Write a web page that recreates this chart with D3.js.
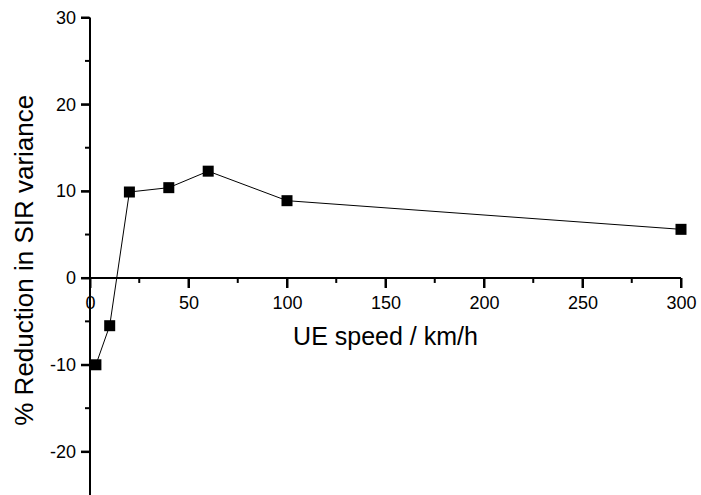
<!DOCTYPE html>
<html>
<head>
<meta charset="utf-8">
<script src="https://cdn.jsdelivr.net/npm/d3@7"></script>
<style>
  body { margin: 0; background: #fff; }
  svg { display: block; font-family: 'Liberation Sans', Arial, sans-serif; }
  .axis text { fill: #000; font-size: 18px; }
</style>
</head>
<body>
<div id="chart"></div>
<script>
// UE speed (km/h) vs % reduction in SIR variance
const speeds = [3, 10, 20, 40, 60, 100, 300];
const reductions = [-10, -5.5, 9.9, 10.4, 12.3, 8.9, 5.6];
const xMajor = [0, 50, 100, 150, 200, 250, 300];
const xMinor = [25, 75, 125, 175, 225, 275];
const yMajor = [-20, -10, 0, 10, 20, 30];
const yMinor = [-15, -5, 5, 15, 25];

const width = 701;
const height = 495;

const svg = d3.select('#chart')
  .append('svg')
  .attr('width', width)
  .attr('height', height);

const x = d3.scaleLinear().domain([0, 300]).range([90, 681]);
const y = d3.scaleLinear().domain([-25, 30]).range([495, 17.5]);

// data line and markers
const pts = speeds.map((s, i) => [s, reductions[i]]);

svg.append('path')
  .datum(pts)
  .attr('fill', 'none')
  .attr('stroke', '#000')
  .attr('stroke-width', 1)
  .attr('d', d3.line().x(d => x(d[0])).y(d => y(d[1])));

const m = 11;
svg.append('g')
  .selectAll('rect')
  .data(pts)
  .enter()
  .append('rect')
  .attr('x', d => x(d[0]) - m / 2)
  .attr('y', d => y(d[1]) - m / 2)
  .attr('width', m)
  .attr('height', m)
  .attr('fill', '#000');

// axes: labels + domain from d3-axis
function styleAxis(g) {
  g.selectAll('.tick line').attr('stroke', '#000').attr('stroke-width', 2);
  g.selectAll('.domain').attr('stroke', '#000').attr('stroke-width', 2);
}

svg.append('g')
  .attr('class', 'axis')
  .attr('transform', `translate(${x(0)},0)`)
  .call(d3.axisLeft(y).tickValues(yMajor).tickSize(9).tickPadding(5).tickFormat(d => String(d)))
  .call(g => g.select('.domain').attr('d', `M0,${y(30)}V${y(-25)}`))
  .call(styleAxis);

svg.append('g')
  .attr('class', 'axis')
  .attr('transform', `translate(0,${y(0)})`)
  .call(d3.axisBottom(x).tickValues(xMajor).tickSize(10).tickPadding(8).tickFormat(d => String(d)))
  .call(g => g.select('.domain').attr('d', `M${x(0)},0H${x(300)}`))
  .call(styleAxis);

// explicit tick marks (major and minor)
const ticks = svg.append('g').attr('stroke', '#000').attr('stroke-width', 2);

ticks.selectAll('.ytick')
  .data(yMajor.map(v => [v, 9]).concat(yMinor.map(v => [v, 5])))
  .enter()
  .append('line')
  .attr('class', 'ytick')
  .attr('x1', x(0) - 0.5)
  .attr('x2', d => x(0) - d[1])
  .attr('y1', d => y(d[0]))
  .attr('y2', d => y(d[0]));

ticks.selectAll('.xtick')
  .data(xMajor.map(v => [v, 10]).concat(xMinor.map(v => [v, 5])))
  .enter()
  .append('line')
  .attr('class', 'xtick')
  .attr('x1', d => x(d[0]))
  .attr('x2', d => x(d[0]))
  .attr('y1', y(0))
  .attr('y2', d => y(0) + d[1]);

// axis titles
svg.append('text')
  .attr('x', (x(0) + x(300)) / 2)
  .attr('y', 345)
  .attr('text-anchor', 'middle')
  .style('font-size', '25px')
  .text('UE speed / km/h');

svg.append('text')
  .attr('transform', `translate(33,${(y(30) + y(-25)) / 2 + 4}) rotate(-90)`)
  .attr('text-anchor', 'middle')
  .style('font-size', '26px')
  .text('% Reduction in SIR variance');
</script>
</body>
</html>
